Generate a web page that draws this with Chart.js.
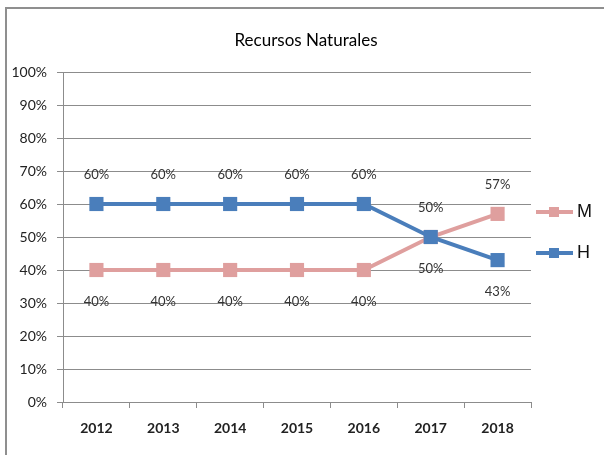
<!DOCTYPE html>
<html>
<head>
<meta charset="utf-8">
<title>Recursos Naturales</title>
<script src="https://cdn.jsdelivr.net/npm/chart.js@4"></script>
<style>
  html, body { margin: 0; padding: 0; background: #fff; overflow: hidden; }
  #wrap { position: relative; width: 604px; height: 455px; }
</style>
</head>
<body>
<div id="wrap"><canvas id="myChart"></canvas></div>
<script>
// years on the x axis
const years = ["2012", "2013", "2014", "2015", "2016", "2017", "2018"];
// share per year, in percent
const hValues = [60, 60, 60, 60, 60, 50, 43];
const mValues = [40, 40, 40, 40, 40, 50, 57];

const chartTitle = "Recursos Naturales";

const blue = "#4a7ebb";
const pink = "#df9f9e";
const gridGray = "#8c8c8c";

Chart.defaults.font.family = "Lato";
Chart.defaults.color = "#222";

// grey frame round the whole chart
const frame = {
  id: "frame",
  beforeDraw(chart) {
    const ctx = chart.ctx;
    ctx.save();
    ctx.strokeStyle = "#8f8f8f";
    ctx.lineWidth = 2;
    ctx.strokeRect(6, 8, 700, 600);
    ctx.restore();
  }
};

// title centred on the frame, which runs past the right edge
const frameTitle = {
  id: "frameTitle",
  afterDraw(chart) {
    const ctx = chart.ctx;
    ctx.save();
    ctx.font = "17px Lato";
    ctx.fillStyle = "#000";
    ctx.textAlign = "center";
    ctx.textBaseline = "alphabetic";
    ctx.fillText(chartTitle, chart.width / 2 + 4, 46);
    ctx.restore();
  }
};

// value labels: the higher series gets its label above the point
const pointLabels = {
  id: "pointLabels",
  afterDatasetsDraw(chart) {
    const ctx = chart.ctx;
    const sets = chart.data.datasets;
    ctx.save();
    ctx.font = "13px Lato";
    ctx.fillStyle = "#333";
    ctx.textAlign = "center";
    ctx.textBaseline = "middle";
    sets.forEach((ds, i) => {
      const meta = chart.getDatasetMeta(i);
      const other = sets[1 - i].data;
      meta.data.forEach((pt, j) => {
        const v = ds.data[j];
        const above = v > other[j] || (v === other[j] && i === 0);
        ctx.fillText(v + "%", pt.x, above ? pt.y - 29 : pt.y + 32);
      });
    });
    ctx.restore();
  }
};

// legend on the right: line with square marker, then the name
const sideLegend = {
  id: "sideLegend",
  afterDraw(chart) {
    const ctx = chart.ctx;
    const area = chart.chartArea;
    const x0 = area.right + 5;
    const mid = (area.top + area.bottom) / 2 - 5;
    const sets = chart.data.datasets.slice().reverse();
    ctx.save();
    sets.forEach((ds, k) => {
      const y = mid - 20 + k * 41;
      ctx.strokeStyle = ds.borderColor;
      ctx.lineWidth = 4;
      ctx.beginPath();
      ctx.moveTo(x0, y);
      ctx.lineTo(x0 + 37, y);
      ctx.stroke();
      ctx.fillStyle = ds.borderColor;
      ctx.fillRect(x0 + 13, y - 5, 10, 10);
      ctx.fillStyle = "#111";
      ctx.font = "18px 'Liberation Sans'";
      ctx.textBaseline = "middle";
      ctx.fillText(ds.label, x0 + 41, y);
    });
    ctx.restore();
  }
};

const ctx = document.getElementById("myChart");

new Chart(ctx, {
  type: "line",
  data: {
    labels: years,
    datasets: [
      {
        label: "H",
        data: hValues,
        borderColor: blue,
        backgroundColor: blue,
        borderWidth: 4,
        pointStyle: "rect",
        pointRadius: 10,
        pointHoverRadius: 10,
        pointBorderWidth: 0,
        tension: 0
      },
      {
        label: "M",
        data: mValues,
        borderColor: pink,
        backgroundColor: pink,
        borderWidth: 4,
        pointStyle: "rect",
        pointRadius: 10,
        pointHoverRadius: 10,
        pointBorderWidth: 0,
        tension: 0
      }
    ]
  },
  options: {
    responsive: true,
    maintainAspectRatio: false,
    animation: false,
    layout: {
      padding: { left: 0, right: 73, top: 72, bottom: 0 }
    },
    plugins: {
      legend: { display: false },
      tooltip: { enabled: false },
      title: { display: false }
    },
    scales: {
      x: {
        offset: true,
        grid: {
          offset: true,
          drawOnChartArea: false,
          color: gridGray,
          tickLength: 6
        },
        border: { color: gridGray },
        ticks: {
          padding: 12,
          font: { size: 14, weight: "bold" },
          color: "#222"
        },
        afterFit(scale) { scale.height = 53; }
      },
      y: {
        min: 0,
        max: 100,
        grid: { color: gridGray, tickLength: 6 },
        border: { color: gridGray },
        ticks: {
          stepSize: 10,
          padding: 10,
          font: { size: 14 },
          color: "#222",
          callback: (v) => v + "%"
        },
        afterFit(scale) { scale.width = 63; }
      }
    }
  },
  plugins: [frame, frameTitle, pointLabels, sideLegend]
});
</script>
</body>
</html>
